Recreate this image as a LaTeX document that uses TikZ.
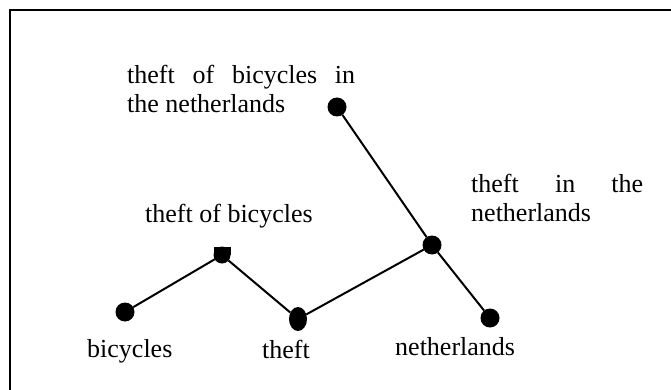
\documentclass[tikz,border=0pt]{standalone}
\usepackage{fontspec}
\setmainfont{Liberation Serif}
\usepackage{tikz}
\usetikzlibrary{shapes.geometric}

\tikzset{
	dot/.style={circle, fill=black, inner sep=0pt, outer sep=0pt, minimum size=19pt},
	word/.style={inner sep=0pt, font=\fontsize{26}{29}\selectfont},
	link/.style={line width=2pt}
}

\begin{document}
\begin{tikzpicture}[x=1pt, y=-1pt]

	\clip (0,0) rectangle (671,390);
	\draw [line width=2pt] (10,400) -- (10,10) -- (680,10);

	% dots
	\node[dot] (bic) at (125, 312) {};
	\node[dot, minimum size=17pt] (tob) at (222, 255) {};
	\fill (tob.west) rectangle (tob.east |- tob.north);
	\node[dot, ellipse, minimum width=18pt, minimum height=24pt] (thf) at (298, 319) {};
	\node[dot] (thn) at (432, 245) {};
	\node[dot] (net) at (490, 318) {};
	\node[dot] (tobn) at (337, 107) {};

	\draw [link] (bic) -- (tob) -- (thf) -- (thn) -- (net);
	\draw [link] (tobn) -- (thn);

	% labels
	\node[word, anchor=north west, align=left] (ltobn) at (127, 65)
		{\makebox[228pt][s]{theft of bicycles in}\\the netherlands};
	\node[word, anchor=north west, align=left] (lthn) at (471, 174)
		{\makebox[172pt][s]{theft in the}\\netherlands};
	\node[word, anchor=base west] (ltob) at (145, 222) {theft of bicycles};
	\node[word, anchor=base west] (lbic) at (87, 357) {bicycles};
	\node[word, anchor=base west] (lthf) at (262, 358) {theft};
	\node[word, anchor=base west] (lnet) at (395, 355) {netherlands};

\end{tikzpicture}
\end{document}
